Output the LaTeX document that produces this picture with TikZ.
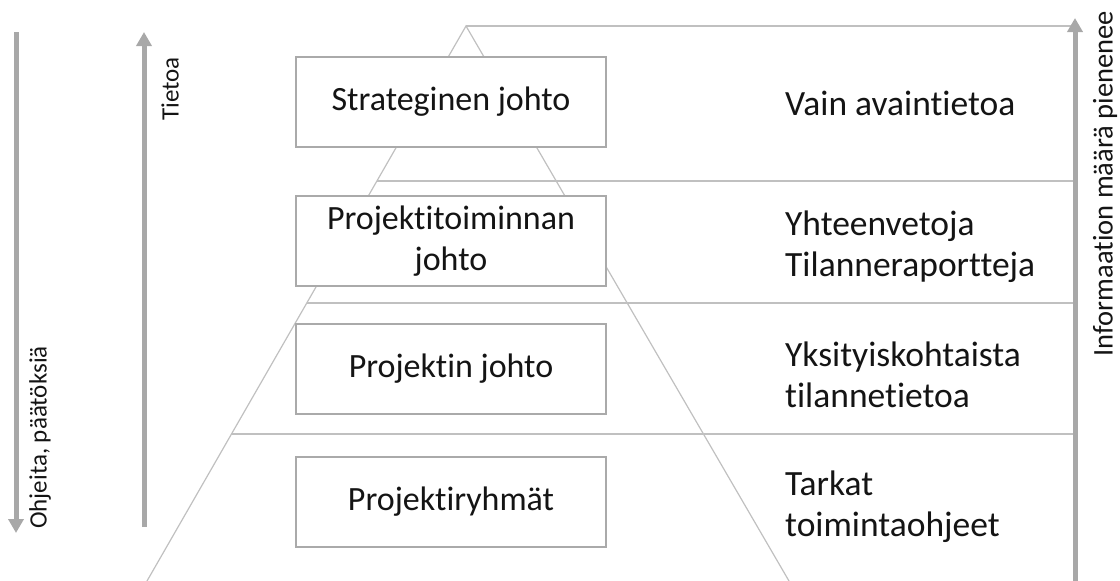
\documentclass[tikz,border=0pt]{standalone}
\usepackage{fontspec}
\setmainfont{Carlito}[Ligatures=NoCommon]
\usetikzlibrary{arrows.meta,calc}

\definecolor{linegray}{RGB}{192,192,192}
\definecolor{boxgray}{RGB}{170,170,170}
\definecolor{arrowgray}{RGB}{168,168,168}
\definecolor{textdark}{RGB}{20,20,20}

\begin{document}
\begin{tikzpicture}[x=1pt,y=-1pt,
	levelbox/.style={draw=boxgray,fill=white,line width=1.2pt,minimum width=310pt,minimum height=90pt,inner sep=0pt,align=center,text=textdark,font=\fontsize{34}{41}\selectfont},
	infotext/.style={anchor=west,align=left,inner sep=0pt,text=textdark,font=\fontsize{35.5}{41}\selectfont},
	flowarrow/.style={draw=arrowgray,line width=5pt,-{Triangle[width=15pt,length=14pt]}},
	sidetext/.style={rotate=90,inner sep=0pt,text=textdark,font=\fontsize{25}{30}\selectfont},
	guide/.style={draw=linegray,line width=1.2pt}]
	
	\useasboundingbox (0,0) rectangle (1120,581);
	
	\coordinate (apex)   at (466, 26);
	\coordinate (baseL)  at (147, 581);
	\coordinate (baseR)  at (789, 581);
	\coordinate (infoB)  at (1075, 581);
	\coordinate (infoT)  at (1075, 18);
	\coordinate (downS)  at (16, 32);
	\coordinate (downE)  at (16, 533);
	\coordinate (upS)    at (144, 527);
	\coordinate (upE)    at (144, 32);
	
	\coordinate (cutA) at ($(apex)!0.2793!(baseL)$);
	\coordinate (cutB) at ($(apex)!0.4991!(baseL)$);
	\coordinate (cutC) at ($(apex)!0.7351!(baseL)$);
	
	\path[guide] (baseL) -- (apex) -- (baseR);
	\path[guide] (apex) -- (apex -| infoT);
	\path[guide] (cutA) -- (cutA -| infoB);
	\path[guide] (cutB) -- (cutB -| infoB);
	\path[guide] (cutC) -- (cutC -| infoB);
	
	\node[levelbox] (strat) at (451, 102) {Strateginen johto};
	\node[levelbox] (ptoim) at (451, 241) {Projektitoiminnan\\johto};
	\node[levelbox] (pjoht) at (451, 369) {Projektin johto};
	\node[levelbox] (pryhm) at (451, 502) {Projektiryhmät};
	
	\node[infotext] (avain) at (785, 103) {Vain avaintietoa};
	\node[infotext] (yhteen) at (785, 247) {Yhteenvetoja\\Tilanneraportteja};
	\node[infotext] (yksit) at (785, 375) {Yksityiskohtaista\\tilannetietoa};
	\node[infotext] (tarkat) at (785, 507) {Tarkat\\toimintaohjeet};
	
	\path[flowarrow] (downS) -- (downE);
	\path[flowarrow] (upS) -- (upE);
	\path[flowarrow] (infoB) -- (infoT);
	
	\node[sidetext,anchor=west] (ohjeet) at (40, 529) {Ohjeita, päätöksiä};
	\node[sidetext,anchor=east] (tieto) at (170, 57) {Tietoa};
	\node[sidetext,anchor=east,font=\fontsize{28.5}{32}\selectfont] (infomaara) at (1105, 11) {Informaation määrä pienenee};
	
\end{tikzpicture}
\end{document}
